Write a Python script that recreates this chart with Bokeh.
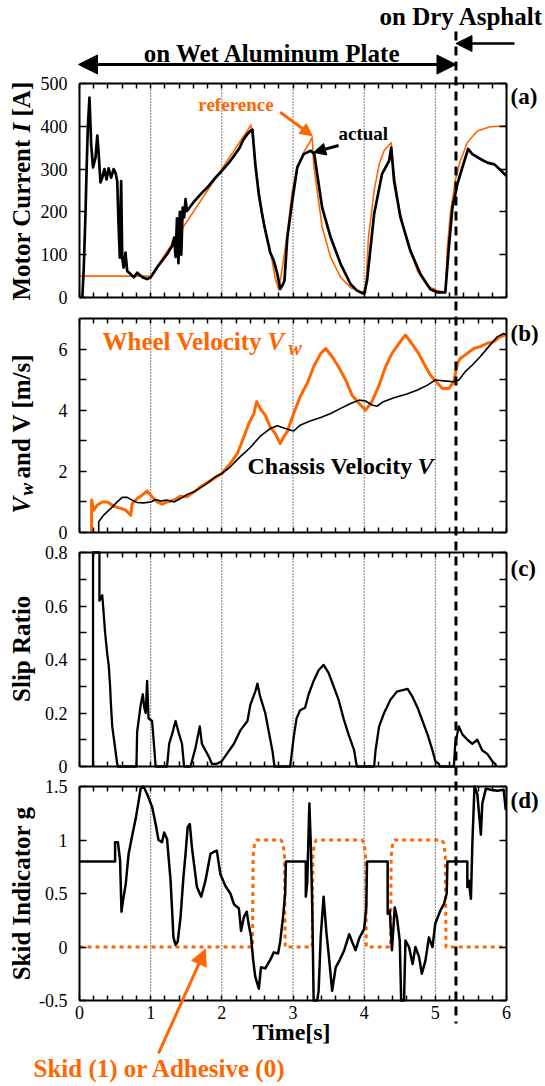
import math
from bokeh.plotting import figure
from bokeh.models import Range1d, LinearAxis, FixedTicker, Label, Arrow, NormalHead
from bokeh.embed import file_html
from bokeh.resources import INLINE

# ---------------- data ----------------
X_TICKS = [0, 1, 2, 3, 4, 5, 6]
X_MINOR = [0.2, 0.4, 0.6, 0.8, 1.2, 1.4, 1.6, 1.8, 2.2, 2.4, 2.6, 2.8, 3.2, 3.4, 3.6, 3.8,
           4.2, 4.4, 4.6, 4.8, 5.2, 5.4, 5.6, 5.8]
GRID_X = [1, 2, 3, 4, 5]
SURFACE_CHANGE_T = 5.29

I_TICKS = [0, 100, 200, 300, 400, 500]
V_TICKS = [0, 2, 4, 6]
V_MINOR = [1, 3, 5]
S_TICKS = [0, 0.2, 0.4, 0.6, 0.8]
S_MINOR = [0.1, 0.3, 0.5, 0.7]
G_TICKS = [-0.5, 0, 0.5, 1, 1.5]

# (a) motor current: reference (orange) and actual (black)
current_reference = [(0, 50), (1.0, 50), (2.41, 403), (2.45, 350), (2.52, 249), (2.61, 156), (2.70, 93),
                     (2.75, 45), (2.80, 18), (2.86, 80), (2.92, 150), (2.99, 249), (3.06, 304), (3.15, 339),
                     (3.22, 358), (3.27, 375), (3.29, 311), (3.34, 249), (3.41, 164), (3.53, 93), (3.67, 47),
                     (3.81, 23), (3.95, 14), (4.02, 12), (4.06, 140), (4.14, 249), (4.21, 311), (4.28, 343),
                     (4.38, 362), (4.42, 288), (4.49, 210), (4.61, 125), (4.75, 62), (4.89, 27), (5.03, 16),
                     (5.14, 12), (5.17, 117), (5.21, 195), (5.28, 273), (5.35, 319), (5.45, 362), (5.59, 389),
                     (5.77, 399), (6.0, 401)]
current_actual = [(0.04, 0), (0.06, 70), (0.084, 195), (0.10, 300), (0.117, 397), (0.14, 467), (0.164, 358),
                  (0.19, 304), (0.225, 327), (0.25, 378), (0.27, 335), (0.295, 269), (0.32, 280), (0.35, 300),
                  (0.38, 276), (0.41, 302), (0.445, 280), (0.48, 300), (0.505, 292), (0.53, 272), (0.55, 164),
                  (0.567, 93), (0.585, 272), (0.60, 93), (0.62, 70), (0.646, 105), (0.67, 62), (0.717, 55),
                  (0.763, 47), (0.81, 58), (0.857, 51), (0.90, 46), (0.95, 43), (1.00, 47), (1.09, 70),
                  (1.23, 101), (1.30, 120), (1.33, 140), (1.35, 95), (1.37, 185), (1.39, 80), (1.41, 200),
                  (1.43, 100), (1.45, 210), (1.47, 187), (1.49, 230), (1.51, 202), (1.60, 222), (1.70, 241),
                  (1.80, 258), (1.90, 278), (2.00, 296), (2.10, 315), (2.17, 331), (2.25, 350), (2.30, 368),
                  (2.36, 382), (2.40, 389), (2.43, 392), (2.47, 311), (2.52, 240), (2.56, 200), (2.60, 165),
                  (2.64, 135), (2.68, 105), (2.73, 86), (2.78, 55), (2.82, 20), (2.85, 28), (2.88, 39),
                  (2.92, 140), (2.99, 226), (3.06, 304), (3.15, 335), (3.25, 343), (3.30, 335), (3.34, 288),
                  (3.41, 210), (3.53, 140), (3.67, 78), (3.81, 31), (3.90, 16), (4.00, 8), (4.04, 39),
                  (4.14, 195), (4.25, 288), (4.35, 319), (4.38, 350), (4.42, 273), (4.51, 187), (4.65, 109),
                  (4.79, 55), (4.93, 19), (5.03, 12), (5.14, 12), (5.19, 117), (5.24, 210), (5.31, 265),
                  (5.38, 304), (5.46, 347), (5.52, 335), (5.64, 323), (5.73, 315), (5.83, 311), (5.90, 300),
                  (6.00, 284)]

# (b) wheel velocity Vw (orange) and chassis velocity V (black) [m/s]
wheel_velocity = [(0.17, 0), (0.17, 1.06), (0.20, 0.73), (0.25, 0.90), (0.32, 1.00), (0.39, 1.00), (0.44, 0.93),
                  (0.48, 0.86), (0.58, 0.79), (0.65, 0.73), (0.72, 0.57), (0.74, 0.95), (0.81, 1.11),
                  (0.88, 1.22), (0.95, 1.36), (1.02, 1.17), (1.09, 1.00), (1.16, 0.93), (1.23, 1.00),
                  (1.33, 1.06), (1.42, 1.19), (1.51, 1.17), (1.61, 1.33), (1.70, 1.49), (1.79, 1.63),
                  (1.89, 1.77), (2.00, 1.93), (2.12, 2.26), (2.22, 2.59), (2.31, 3.13), (2.38, 3.57),
                  (2.45, 3.89), (2.49, 4.28), (2.54, 4.05), (2.61, 3.84), (2.68, 3.45), (2.75, 3.24),
                  (2.82, 2.91), (2.87, 3.13), (2.92, 3.30), (3.01, 3.90), (3.10, 4.44), (3.20, 4.88),
                  (3.29, 5.42), (3.39, 5.86), (3.46, 6.02), (3.55, 5.75), (3.64, 5.42), (3.74, 4.99),
                  (3.83, 4.49), (3.93, 4.22), (4.02, 4.00), (4.11, 4.28), (4.21, 4.82), (4.30, 5.42),
                  (4.39, 5.86), (4.49, 6.19), (4.58, 6.46), (4.65, 6.24), (4.75, 5.91), (4.84, 5.53),
                  (4.93, 5.15), (5.03, 4.88), (5.10, 4.71), (5.19, 4.71), (5.26, 4.93), (5.31, 5.53),
                  (5.35, 5.69), (5.45, 5.86), (5.54, 6.02), (5.63, 6.08), (5.73, 6.19), (5.82, 6.24),
                  (5.91, 6.40), (5.98, 6.46)]
chassis_velocity = [(0.27, 0), (0.27, 0.35), (0.34, 0.57), (0.44, 0.79), (0.53, 1.00), (0.60, 1.15), (0.67, 1.15),
                    (0.74, 1.06), (0.81, 0.98), (0.90, 0.97), (1.00, 1.00), (1.07, 1.08), (1.14, 1.03),
                    (1.23, 1.06), (1.33, 1.00), (1.42, 1.11), (1.51, 1.24), (1.61, 1.33), (1.70, 1.47),
                    (1.79, 1.60), (1.91, 1.82), (2.00, 1.93), (2.12, 2.15), (2.26, 2.48), (2.40, 2.78),
                    (2.54, 3.15), (2.68, 3.40), (2.78, 3.49), (2.87, 3.42), (2.96, 3.35), (3.01, 3.32),
                    (3.10, 3.51), (3.24, 3.65), (3.39, 3.76), (3.53, 3.89), (3.67, 4.06), (3.81, 4.22),
                    (3.93, 4.33), (4.02, 4.30), (4.11, 4.17), (4.18, 4.13), (4.27, 4.28), (4.42, 4.41),
                    (4.60, 4.53), (4.75, 4.66), (4.89, 4.82), (5.00, 4.99), (5.12, 4.96), (5.26, 4.93),
                    (5.33, 4.99), (5.42, 5.26), (5.52, 5.48), (5.63, 5.75), (5.75, 6.08), (5.87, 6.40),
                    (5.96, 6.51), (6.00, 6.46)]

# (c) slip ratio (the spike near t=0.2 leaves the panel at its top edge)
slip_ratio = [(0.19, 0), (0.19, 0.8), (0.28, 0.8), (0.28, 0.62), (0.30, 0.63), (0.32, 0.64), (0.34, 0.57),
              (0.36, 0.50), (0.39, 0.42), (0.41, 0.38), (0.43, 0.30), (0.44, 0.24), (0.46, 0.15), (0.50, 0.07),
              (0.53, 0.01), (0.54, 0), (0.80, 0), (0.81, 0.13), (0.86, 0.23), (0.89, 0.27), (0.91, 0.22),
              (0.93, 0.20), (0.95, 0.32), (0.97, 0.18), (1.02, 0.17), (1.05, 0.07), (1.07, 0), (1.23, 0),
              (1.26, 0.085), (1.30, 0.12), (1.35, 0.17), (1.40, 0.12), (1.44, 0.085), (1.47, 0), (1.56, 0),
              (1.58, 0.02), (1.63, 0.07), (1.69, 0.15), (1.72, 0.085), (1.77, 0.06), (1.82, 0.035),
              (1.86, 0.01), (1.93, 0.01), (2.00, 0.02), (2.07, 0.047), (2.17, 0.085), (2.26, 0.135),
              (2.36, 0.17), (2.40, 0.23), (2.47, 0.28), (2.50, 0.31), (2.54, 0.26), (2.61, 0.20),
              (2.66, 0.13), (2.71, 0.06), (2.74, 0), (2.96, 0), (3.01, 0.11), (3.05, 0.18), (3.10, 0.21),
              (3.17, 0.22), (3.22, 0.27), (3.29, 0.32), (3.36, 0.36), (3.43, 0.38), (3.50, 0.35),
              (3.57, 0.30), (3.64, 0.25), (3.71, 0.18), (3.78, 0.12), (3.86, 0.06), (3.89, 0.01), (3.90, 0),
              (4.14, 0), (4.16, 0.06), (4.21, 0.15), (4.28, 0.20), (4.37, 0.25), (4.46, 0.28), (4.53, 0.285),
              (4.61, 0.29), (4.68, 0.26), (4.75, 0.22), (4.82, 0.17), (4.89, 0.12), (4.96, 0.06),
              (5.00, 0.02), (5.05, 0.01), (5.06, 0), (5.26, 0), (5.28, 0.085), (5.33, 0.15), (5.38, 0.12),
              (5.45, 0.10), (5.52, 0.085), (5.59, 0.10), (5.66, 0.06), (5.73, 0.047), (5.80, 0.02),
              (5.84, 0.01), (5.86, 0)]

# (d) skid indicator g (black; dips leave the panel at its bottom edge) and skid/adhesive flag (orange)
skid_indicator = [(0, 0.8), (0.50, 0.8), (0.50, 0.98), (0.54, 0.98), (0.57, 0.81), (0.59, 0.33), (0.61, 0.43),
                  (0.65, 0.59), (0.69, 0.87), (0.74, 1.04), (0.79, 1.20), (0.86, 1.48), (0.90, 1.50),
                  (0.95, 1.43), (1.02, 1.31), (1.07, 1.15), (1.11, 1.00), (1.16, 0.98), (1.19, 1.07),
                  (1.23, 1.01), (1.28, 0.62), (1.32, 0.09), (1.35, 0.02), (1.38, 0.05), (1.42, 0.28),
                  (1.46, 0.65), (1.49, 0.87), (1.52, 1.12), (1.55, 1.15), (1.58, 0.93), (1.65, 0.56),
                  (1.71, 0.47), (1.77, 0.62), (1.84, 0.87), (1.89, 0.89), (1.93, 0.90), (1.98, 0.68),
                  (2.05, 0.57), (2.12, 0.50), (2.17, 0.40), (2.24, 0.36), (2.27, 0.15), (2.31, 0.28),
                  (2.35, 0.33), (2.38, 0.20), (2.41, 0.10), (2.44, -0.12), (2.47, -0.28), (2.52, -0.39),
                  (2.55, -0.19), (2.61, -0.20), (2.68, -0.12), (2.73, -0.05), (2.79, -0.06), (2.82, 0.05),
                  (2.86, 0.28), (2.89, 0.50), (2.90, 0.80), (3.18, 0.80), (3.18, 0.47), (3.20, 0.60),
                  (3.23, 1.34), (3.25, 0.96), (3.27, 0.40), (3.29, -0.50), (3.34, -0.50),
                  (3.36, -0.41), (3.39, 0.10), (3.43, 0.47), (3.47, 0.13), (3.50, -0.06), (3.55, -0.41),
                  (3.60, -0.19), (3.65, -0.13), (3.72, -0.03), (3.79, 0.12), (3.83, 0.05), (3.88, -0.03),
                  (3.93, 0.08), (4.00, 0.17), (4.03, 0.37), (4.04, 0.80), (4.33, 0.80), (4.33, 0.31),
                  (4.36, 0.34), (4.39, -0.03), (4.43, 0.37), (4.46, 0.28), (4.50, 0.06), (4.52, -0.50),
                  (4.56, -0.50), (4.58, 0.06), (4.63, 0.00), (4.68, -0.16), (4.72, 0.00), (4.77, -0.09),
                  (4.81, -0.25), (4.86, -0.13), (4.91, 0.09), (4.96, 0.00), (5.00, 0.22), (5.07, 0.34),
                  (5.12, 0.40), (5.16, 0.50), (5.17, 0.80), (5.45, 0.80), (5.45, 0.56), (5.47, 0.62),
                  (5.50, 0.45), (5.52, 0.96), (5.55, 1.50), (5.59, 1.43), (5.64, 1.05), (5.66, 1.34),
                  (5.71, 1.48), (5.78, 1.47), (5.87, 1.46), (5.96, 1.47), (5.99, 1.28)]
skid_flag = [(0, 0), (2.43, 0), (2.44, 0.85), (2.46, 0.97), (2.49, 1.0), (2.83, 1.0), (2.86, 0.97), (2.88, 0.85),
             (2.89, 0), (3.27, 0), (3.28, 0.85), (3.30, 0.97), (3.33, 1.0), (3.97, 1.0), (4.00, 0.97),
             (4.02, 0.85), (4.03, 0), (4.37, 0), (4.38, 0.85), (4.40, 0.97), (4.43, 1.0), (5.09, 1.0),
             (5.12, 0.97), (5.14, 0.85), (5.15, 0), (6.0, 0)]

# ---------------- layout / style ----------------
W, H = 545, 1086
FL, FW = 79, 427            # frame left edge and width of every panel, px
PX = FW / 6.0               # px per second
SERIF = "Liberation Serif"
ORANGE = "#FF6600"

# panel: (y min, y max, box top px, box bottom px)
PANELS = {
    "a": (0, 500, 83, 297),
    "b": (0, 7, 318, 532),
    "c": (0, 0.8, 552, 766),
    "d": (-0.5, 1.5, 786, 1000),
}


def t_at(px):
    return (px - FL) / PX


def y_range_for(lo, hi, top_px, bot_px):
    k = (hi - lo) / (bot_px - top_px)
    return Range1d(lo - (H - bot_px) * k, hi + top_px * k)


p = figure(width=W, height=H, x_range=Range1d(t_at(0), t_at(W)), y_range=Range1d(H, 0),
           x_axis_type=None, y_axis_type=None, title=None,
           output_backend="svg", toolbar_location=None, min_border=0)
p.outline_line_color = None
p.background_fill_color = "white"
p.border_fill_color = "white"
p.extra_y_ranges = {k: y_range_for(*v) for k, v in PANELS.items()}


def make_axis(name, loc, bounds, ticks, minor, length, labels, standoff=0, overrides=None):
    kw = dict(y_range_name=name, fixed_location=loc, bounds=bounds,
              ticker=FixedTicker(ticks=ticks, minor_ticks=minor),
              major_tick_in=length, major_tick_out=0, minor_tick_in=length, minor_tick_out=0,
              axis_line_color="black", axis_line_width=2,
              major_tick_line_color="black", minor_tick_line_color="black",
              major_tick_line_width=1.5, minor_tick_line_width=1.5)
    if labels:
        kw.update(major_label_text_font=SERIF, major_label_text_font_size="18px",
                  major_label_text_font_style="normal",
                  major_label_text_color="black", major_label_standoff=standoff)
        if overrides:
            kw["major_label_overrides"] = overrides
    else:
        kw.update(major_label_text_font_size="1px", major_label_text_color=None, major_label_standoff=0)
    return LinearAxis(**kw)


def lab(name, x, y, text, size, color="black", style="bold", align="left", baseline="middle", angle=0.0):
    kw = dict(x=x, y=y, text=text, text_font=SERIF, text_font_size=f"{size}px",
              text_font_style=style, text_color=color, text_align=align,
              text_baseline=baseline, angle=angle)
    if name is not None:
        kw["y_range_name"] = name
    p.add_layout(Label(**kw))


def build_panel(name, yticks, yminor, xlabels=False, overrides=None):
    lo, hi, _, _ = PANELS[name]
    p.segment(x0=GRID_X, y0=[lo] * len(GRID_X), x1=GRID_X, y1=[hi] * len(GRID_X),
              line_color="black", line_width=1, line_dash="1 2", y_range_name=name)
    p.add_layout(make_axis(name, 0, (lo, hi), yticks, yminor, 7, True, 12, overrides), "left")
    p.add_layout(make_axis(name, 6, (lo, hi), yticks, yminor, 7, False), "right")
    p.add_layout(make_axis(name, lo, (0, 6), X_TICKS, X_MINOR, 5, xlabels, 5), "below")
    p.add_layout(make_axis(name, hi, (0, 6), X_TICKS, X_MINOR, 5, False), "above")


def series(name, pairs, **kw):
    xs = [a for a, _ in pairs]
    ys = [b for _, b in pairs]
    p.line(xs, ys, y_range_name=name, line_join="round", **kw)


YLAB_X = t_at(21)
LAB_X = t_at(510)
UP = math.pi / 2

# ---------------- (a) motor current ----------------
build_panel("a", I_TICKS, [])
series("a", current_reference, line_color=ORANGE, line_width=1.6)
series("a", current_actual, line_color="black", line_width=2.7)
lab("a", 1.67, 451, "reference", 19, color=ORANGE)
lab("a", 3.64, 383, "actual", 19)
p.add_layout(Arrow(end=NormalHead(size=12, fill_color=ORANGE, line_color=ORANGE), y_range_name="a",
                   x_start=2.82, y_start=433, x_end=3.27, y_end=378, line_color=ORANGE, line_width=3))
p.add_layout(Arrow(end=NormalHead(size=12, fill_color="black", line_color="black"), y_range_name="a",
                   x_start=3.64, y_start=355, x_end=3.29, y_end=339, line_color="black", line_width=3))
lab("a", LAB_X, 469, "(a)", 23)
# rotated y-axis title, pieces placed along the page (px from top)
lab(None, YLAB_X, 300, "Motor Current", 25, angle=UP)
lab(None, YLAB_X, 132, "I", 25, style="bold italic", angle=UP)
lab(None, YLAB_X, 116, "[A]", 25, angle=UP)

# ---------------- (b) velocities ----------------
build_panel("b", V_TICKS, V_MINOR)
series("b", wheel_velocity, line_color=ORANGE, line_width=3)
series("b", chassis_velocity, line_color="black", line_width=1.6)
lab("b", t_at(102), 6.25, "Wheel Velocity", 25, color=ORANGE)
lab("b", t_at(267), 6.25, "V", 25, color=ORANGE, style="bold italic")
lab("b", t_at(288), 6.02, "w", 20, color=ORANGE, style="bold italic")
lab("b", t_at(247), 2.19, "Chassis Velocity", 24)
lab("b", t_at(417), 2.19, "V", 24, style="bold italic")
lab("b", LAB_X, 6.51, "(b)", 23)
lab(None, YLAB_X, 513, "V", 25, style="bold italic", angle=UP)
lab(None, t_at(26), 495, "w", 19, style="bold italic", angle=UP)
lab(None, YLAB_X, 478, "and V [m/s]", 25, angle=UP)

# ---------------- (c) slip ratio ----------------
build_panel("c", S_TICKS, S_MINOR)
series("c", slip_ratio, line_color="black", line_width=2.3)
lab("c", LAB_X, 0.74, "(c)", 23)
lab("c", YLAB_X, 0.44, "Slip Ratio", 25, align="center", angle=UP)

# ---------------- (d) skid indicator ----------------
build_panel("d", G_TICKS, [], xlabels=True, overrides={-0.5: "-0.5"})
series("d", skid_flag, line_color=ORANGE, line_width=3, line_dash="4 4")
series("d", skid_indicator, line_color="black", line_width=2.5)
lab("d", LAB_X, 1.369, "(d)", 23)
lab("d", YLAB_X, 0.5, "Skid Indicator g", 25, align="center", angle=UP)
lab("d", t_at(291), -0.79, "Time[s]", 24, align="center")
lab("d", t_at(33), -1.136, "Skid (1) or Adhesive (0)", 25, color=ORANGE)
p.add_layout(Arrow(end=NormalHead(size=16, fill_color=ORANGE, line_color=ORANGE), y_range_name="d",
                   x_start=t_at(158), y_start=-0.995, x_end=t_at(205), y_end=-0.02,
                   line_color=ORANGE, line_width=3))

# ---------------- page-level annotations (y in px from the top) ----------------
lab(None, t_at(379), 16, "on Dry Asphalt", 25, baseline="alphabetic")
lab(None, t_at(272), 53, "on Wet Aluminum Plate", 25, align="center", baseline="alphabetic")
p.add_layout(Arrow(start=NormalHead(size=19, fill_color="black", line_color="black"),
                   end=NormalHead(size=19, fill_color="black", line_color="black"),
                   x_start=t_at(78), y_start=64, x_end=SURFACE_CHANGE_T, y_end=64,
                   line_color="black", line_width=3))
p.add_layout(Arrow(end=NormalHead(size=16, fill_color="black", line_color="black"),
                   x_start=t_at(514), y_start=43, x_end=SURFACE_CHANGE_T, y_end=43,
                   line_color="black", line_width=2.5))
p.add_layout(Arrow(start=None, end=None, x_start=SURFACE_CHANGE_T, x_end=SURFACE_CHANGE_T,
                   y_start=31, y_end=1023, line_color="black", line_width=3, line_dash="9 6"))

open("out.html", "w").write(file_html(p, INLINE))
